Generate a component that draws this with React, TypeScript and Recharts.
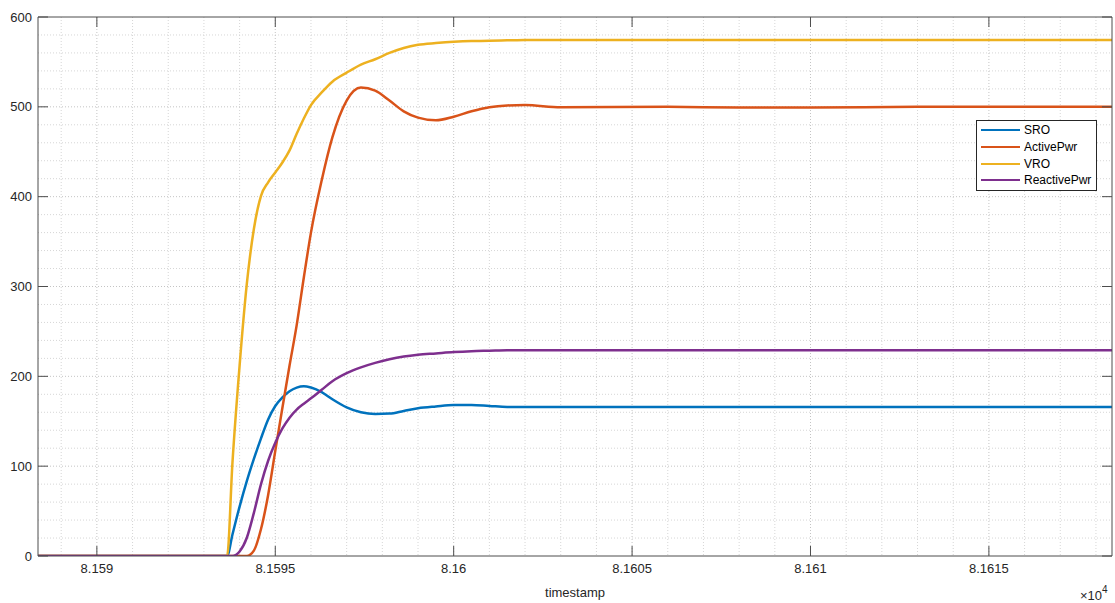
import { LineChart, Line, XAxis, YAxis, CartesianGrid, Legend, Label } from 'recharts';

// sample times (s) and the four signals
const timestamps = [
  81588.35, 81593.65, 81593.8, 81594.0, 81594.2, 81594.4, 81594.6, 81594.8, 81595.0, 81595.2,
  81595.4, 81595.6, 81595.8, 81596.0, 81596.3, 81596.6, 81597.0, 81597.4, 81597.8, 81598.2,
  81598.6, 81599.0, 81599.5, 81600.0, 81600.5, 81601.0, 81601.5, 81602.0, 81603, 81606,
  81608, 81610, 81613, 81618.45,
];
const sroValues = [
  0, 0, 24, 55, 83, 108, 131, 152, 167, 176.5,
  183.5, 187.5, 189, 187.5, 182.5, 174.5, 165.5, 160, 158, 158.5,
  161.5, 164.5, 166.5, 168, 168, 167, 166, 166, 166, 166,
  166, 166, 166, 166,
];
const activePwrValues = [
  0, 0, 0, 0, 0, 6, 30, 68, 117, 165,
  212, 257, 310, 360, 418, 466, 507, 521.5, 518, 507,
  495, 488, 485, 489, 495, 499.5, 501.5, 502, 499.5, 500,
  499.3, 499.3, 500, 500,
];
const vroValues = [
  0, 0, 104, 212, 302, 364, 401, 416, 427, 438,
  451.5, 470, 487, 502, 516, 528, 538, 547, 553, 560,
  565.5, 569, 571, 572.5, 573.3, 573.5, 574, 574.5, 574.5, 574.5,
  574.5, 574.5, 574.5, 574.5,
];
const reactivePwrValues = [
  0, 0, 0, 5, 20, 48, 80, 106, 126, 142,
  154, 163, 169.5, 175.5, 185, 194.5, 203.5, 210, 215, 219,
  222, 224, 225.5, 227, 228, 228.5, 229, 229, 229, 229,
  229, 229, 229, 229,
];

const seriesNames = ['SRO', 'ActivePwr', 'VRO', 'ReactivePwr'];
const seriesColors = ['#0072BD', '#D95319', '#EDB120', '#7E2F8E'];
const xTicks = [81590, 81595, 81600, 81605, 81610, 81615];
const yTicks = [0, 100, 200, 300, 400, 500, 600];
const xDomain = [81588.35, 81618.45];
const yDomain = [0, 600];

const chartData = timestamps.map((t, i) => ({
  timestamp: t,
  SRO: sroValues[i],
  ActivePwr: activePwrValues[i],
  VRO: vroValues[i],
  ReactivePwr: reactivePwrValues[i],
}));

// minor grid every 1 s and every 20 units
const minorX: number[] = [];
for (let v = 81589; v <= 81618; v++) if (v % 5 !== 0) minorX.push(v);
const minorY: number[] = [];
for (let v = 20; v < 600; v += 20) if (v % 100 !== 0) minorY.push(v);

const FONT = '"Liberation Sans", Arial, Helvetica, sans-serif';
const AXIS = '#4d4d4d';
const TEXT = '#262626';
const TICK_LEN = 10;

// 81595 -> "8.1595"
const fmtX = (v: number) => (v / 1e4).toFixed(4).replace(/0+$/, '').replace(/\.$/, '');

const BottomTick = ({ x, y, payload }: any) => (
  <g>
    <line x1={x} y1={y} x2={x} y2={y - TICK_LEN} stroke={AXIS} />
    <text x={x} y={y + 17} textAnchor="middle" fill={TEXT} fontSize={13} fontFamily={FONT}>
      {fmtX(payload.value)}
    </text>
  </g>
);

const TopTick = ({ x, y }: any) => (
  <line x1={x} y1={y} x2={x} y2={y + TICK_LEN} stroke={AXIS} />
);

const LeftTick = ({ x, y, payload }: any) => (
  <g>
    <line x1={x} y1={y} x2={x + TICK_LEN} y2={y} stroke={AXIS} />
    <text x={x - 6} y={y + 4.5} textAnchor="end" fill={TEXT} fontSize={13} fontFamily={FONT}>
      {payload.value}
    </text>
  </g>
);

const RightTick = ({ x, y }: any) => (
  <line x1={x} y1={y} x2={x - TICK_LEN} y2={y} stroke={AXIS} />
);

const LegendBox = () => (
  <div
    style={{
      width: 121,
      boxSizing: 'border-box',
      border: '1px solid #262626',
      background: '#fff',
      padding: '1px 0 1px 4px',
      fontFamily: FONT,
      fontSize: 12,
      color: '#000',
    }}
  >
    {seriesNames.map((name, i) => (
      <div key={name} style={{ display: 'flex', alignItems: 'center', height: 16.7 }}>
        <span style={{ display: 'inline-block', width: 39, borderTop: `2.5px solid ${seriesColors[i]}`, marginRight: 4 }} />
        <span>{name}</span>
      </div>
    ))}
  </div>
);

const XAxisLabels = ({ viewBox }: any) => {
  const vb = viewBox || { x: 38, y: 556, width: 1074, height: 47 };
  return (
    <g fontFamily={FONT} fill={TEXT} fontSize={13}>
      <text x={vb.x + vb.width / 2} y={vb.y + 41} textAnchor="middle">timestamp</text>
      <text x={vb.x + vb.width - 32} y={vb.y + 44}>
        ×10
        <tspan dy={-7} fontSize={10}>4</tspan>
      </text>
    </g>
  );
};

export default function App() {
  return (
    <div style={{ position: 'absolute', left: 0, top: 0, width: 1115, height: 603, background: '#fff' }}>
      <LineChart
        width={1115}
        height={603}
        data={chartData}
        margin={{ top: 16, right: 2, left: 0, bottom: 0 }}
      >
        <CartesianGrid
          verticalValues={minorX}
          horizontalValues={minorY}
          stroke="#d6d6d6"
          strokeDasharray="1 2"
        />
        <CartesianGrid
          verticalValues={xTicks}
          horizontalValues={yTicks.slice(1, -1)}
          stroke="#c4c4c4"
          strokeDasharray="1 2"
        />
        <XAxis
          dataKey="timestamp"
          type="number"
          domain={xDomain}
          ticks={xTicks}
          interval={0}
          allowDataOverflow
          height={47}
          tickSize={0}
          tickMargin={0}
          tickLine={false}
          tick={<BottomTick />}
          axisLine={{ stroke: AXIS }}
        >
          <Label content={<XAxisLabels />} />
        </XAxis>
        <XAxis
          xAxisId="top"
          orientation="top"
          dataKey="timestamp"
          type="number"
          domain={xDomain}
          ticks={xTicks}
          interval={0}
          allowDataOverflow
          height={1}
          tickSize={0}
          tickMargin={0}
          tickLine={false}
          tick={<TopTick />}
          axisLine={{ stroke: AXIS }}
        />
        <YAxis
          type="number"
          domain={yDomain}
          ticks={yTicks}
          interval={0}
          allowDataOverflow
          width={38}
          tickSize={0}
          tickMargin={0}
          tickLine={false}
          tick={<LeftTick />}
          axisLine={{ stroke: AXIS }}
        />
        <YAxis
          yAxisId="right"
          orientation="right"
          type="number"
          domain={yDomain}
          ticks={yTicks}
          interval={0}
          allowDataOverflow
          width={1}
          tickSize={0}
          tickMargin={0}
          tickLine={false}
          tick={<RightTick />}
          axisLine={{ stroke: AXIS }}
        />
        <Legend
          layout="horizontal"
          verticalAlign="middle"
          align="center"
          content={<LegendBox />}
          wrapperStyle={{ position: 'absolute', left: 976, top: 120, width: 121, height: 71 }}
        />
        {seriesNames.map((name, i) => (
          <Line
            key={name}
            type="monotone"
            dataKey={name}
            name={name}
            stroke={seriesColors[i]}
            strokeWidth={2.5}
            dot={false}
            activeDot={false}
            isAnimationActive={false}
          />
        ))}
      </LineChart>
    </div>
  );
}
